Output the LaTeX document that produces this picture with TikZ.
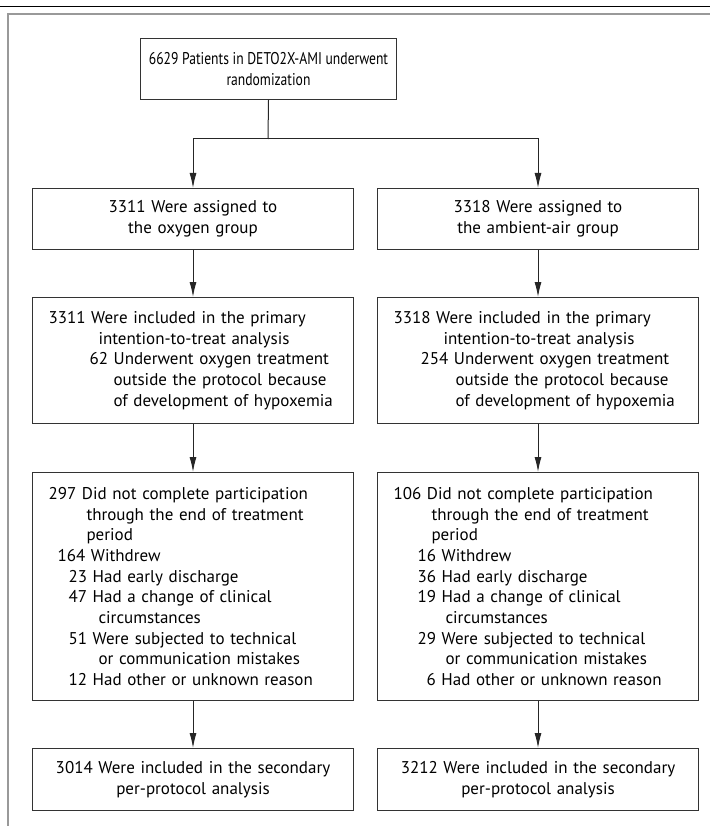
\documentclass[tikz,border=0pt]{standalone}
\usepackage{fontspec}
\setmainfont{PT Sans}
\usetikzlibrary{arrows.meta}
\newcommand\ind[2]{\hspace*{#1pt}\mbox{#2}}
\newcommand\cond[1]{\scalebox{0.8}[1]{#1}}
\begin{document}
\begin{tikzpicture}[x=1pt,y=-1pt,
  box/.style={draw=black!80,line width=1pt,anchor=north west,minimum width=321pt,inner xsep=16pt,inner ysep=0pt,
    font=\fontsize{17}{20.7}\selectfont},
  cbox/.style={box,align=center,text width=289pt},
  lbox/.style={box,align=left,text width=289pt},
  arr/.style={line width=1pt,black!85,-{Latex[length=15pt,width=7pt]}},
  con/.style={line width=1pt,black!85}]
\useasboundingbox (0,0) rectangle (710,826);
% frame
\draw[black,line width=1pt] (0,7) -- (710,7);
\draw[gray!80,line width=2.5pt] (8,826) -- (8,14) -- (710,14);
% top box
\node[box,align=center,minimum width=256pt,inner xsep=4pt,minimum height=61pt] (top) at (140,38)
  {\cond{6629 Patients in DETO2X-AMI underwent}\\\cond{randomization}};
% second row
\node[cbox,minimum height=61pt] (b2l) at (32,188) {3311 Were assigned to\\the oxygen group};
\node[cbox,minimum height=61pt] (b2r) at (377,188) {3318 Were assigned to\\the ambient-air group};
% third row
\node[lbox,minimum height=126pt] (b3l) at (32,297) {\ind{0}{3311 Were included in the primary}\\
\ind{50}{intention-to-treat analysis}\\
\ind{41}{62 Underwent oxygen treatment}\\
\ind{65}{outside the protocol because}\\
\ind{65}{of development of hypoxemia}};
\node[lbox,minimum height=126pt] (b3r) at (377,297) {\ind{0}{3318 Were included in the primary}\\
\ind{50}{intention-to-treat analysis}\\
\ind{27}{254 Underwent oxygen treatment}\\
\ind{62}{outside the protocol because}\\
\ind{62}{of development of hypoxemia}};
% fourth row
\node[lbox,minimum height=228pt] (b4l) at (32,472) {\ind{0}{297 Did not complete participation}\\
\ind{38}{through the end of treatment}\\
\ind{38}{period}\\
\ind{9}{164 Withdrew}\\
\ind{20}{23 Had early discharge}\\
\ind{20}{47 Had a change of clinical}\\
\ind{50}{circumstances}\\
\ind{20}{51 Were subjected to technical}\\
\ind{50}{or communication mistakes}\\
\ind{20}{12 Had other or unknown reason}};
\node[lbox,minimum height=228pt] (b4r) at (377,472) {\ind{0}{106 Did not complete participation}\\
\ind{38}{through the end of treatment}\\
\ind{38}{period}\\
\ind{24}{16 Withdrew}\\
\ind{24}{36 Had early discharge}\\
\ind{24}{19 Had a change of clinical}\\
\ind{52}{circumstances}\\
\ind{24}{29 Were subjected to technical}\\
\ind{52}{or communication mistakes}\\
\ind{33}{6 Had other or unknown reason}};
% fifth row
\node[cbox,minimum height=62pt] (b5l) at (32,748) {3014 Were included in the secondary\\per-protocol analysis};
\node[cbox,minimum height=62pt] (b5r) at (377,748) {3212 Were included in the secondary\\per-protocol analysis};
% connectors
\coordinate (split) at (268,139);
\draw[con] (top.south) -- (split);
\draw[arr] (split) -| (b2l.north);
\draw[arr] (split) -| (b2r.north);
\draw[arr] (b2l) -- (b3l);
\draw[arr] (b2r) -- (b3r);
\draw[arr] (b3l) -- (b4l);
\draw[arr] (b3r) -- (b4r);
\draw[arr] (b4l) -- (b5l);
\draw[arr] (b4r) -- (b5r);
\end{tikzpicture}
\end{document}
